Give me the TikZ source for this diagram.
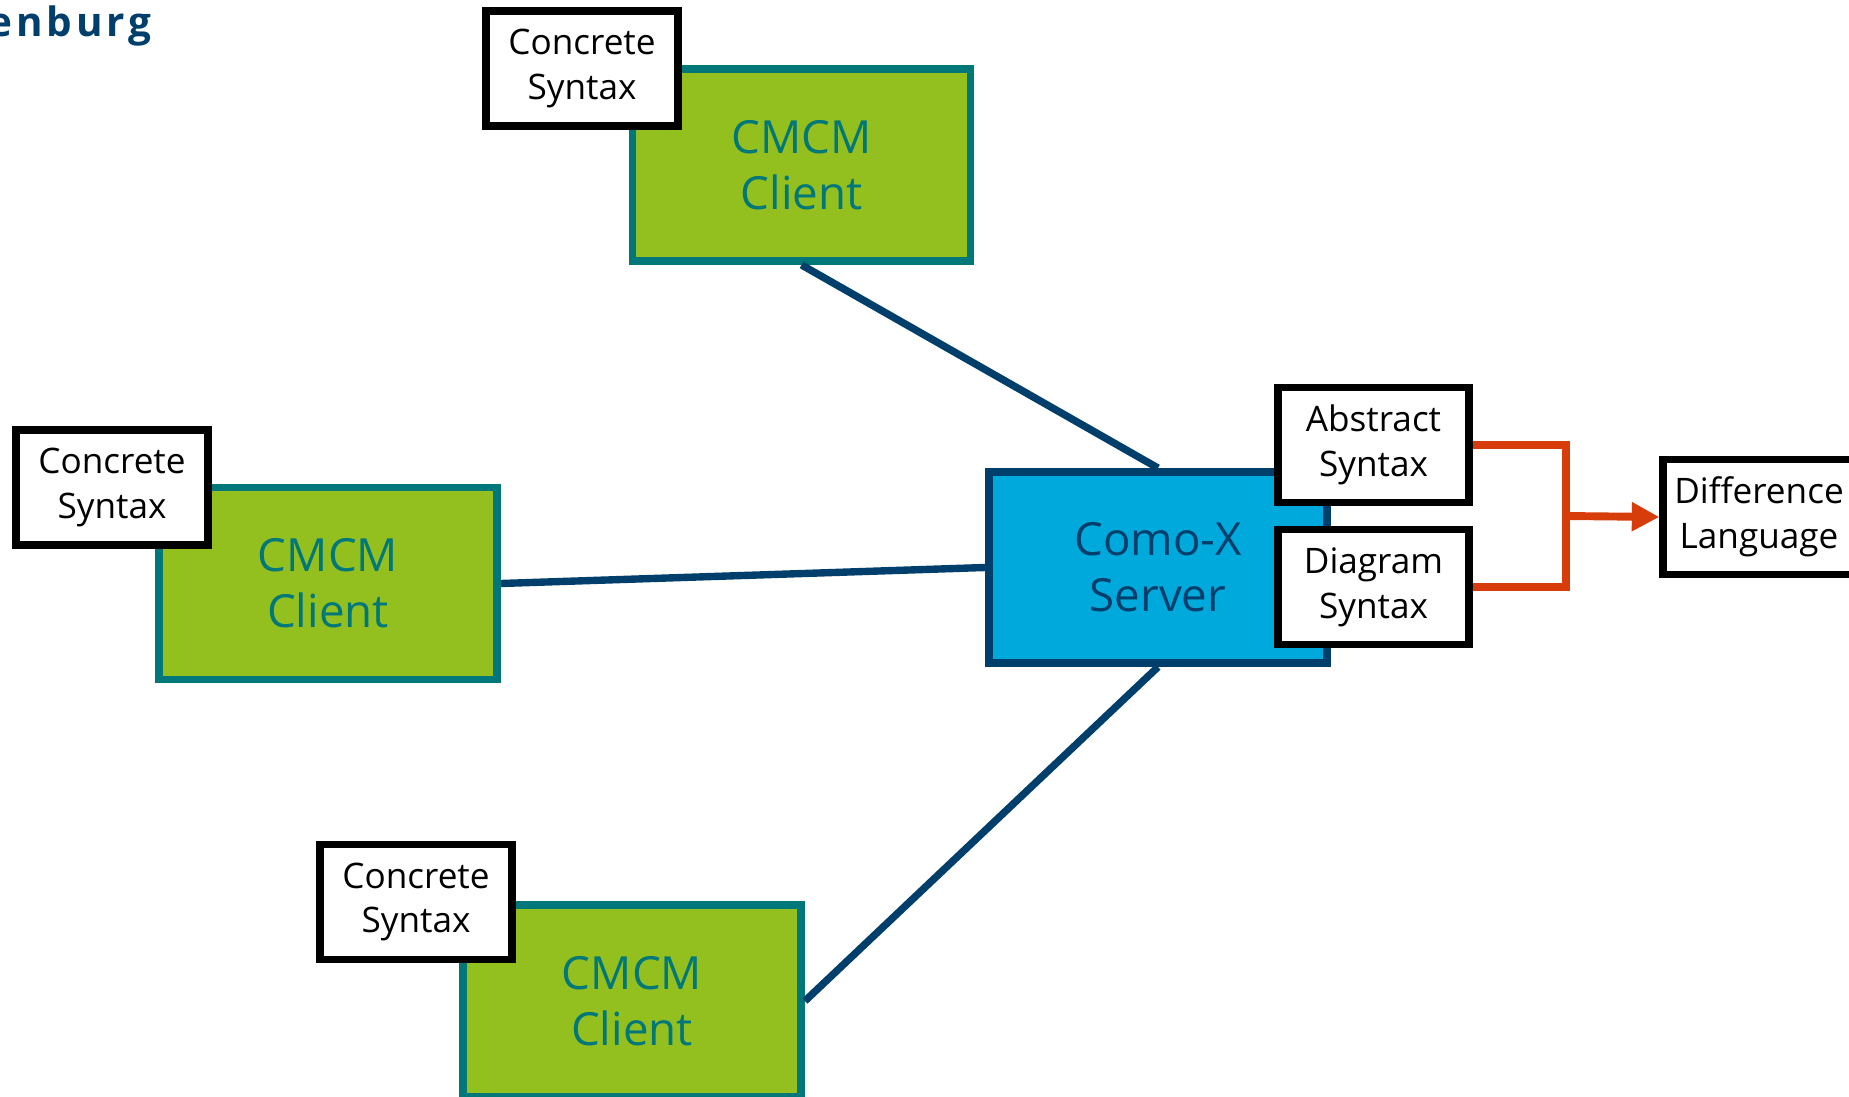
\documentclass[tikz,border=0pt]{standalone}
\usepackage{fontspec}
\setmainfont{Open Sans}
\newfontfamily\logofont[LetterSpace=10.0]{Open Sans}
\usetikzlibrary{arrows.meta}

\definecolor{cmgreen}{HTML}{93C01F}
\definecolor{cmteal}{HTML}{00787A}
\definecolor{cxblue}{HTML}{00A9DB}
\definecolor{navy}{HTML}{003F6C}
\definecolor{flow}{HTML}{D73D0B}

\tikzset{
  client/.style={draw=cmteal, fill=cmgreen, line width=4.5pt, text=cmteal,
    minimum width=6.76cm, minimum height=3.84cm, align=center,
    font=\fontsize{26}{32}\selectfont},
  server/.style={client, draw=navy, fill=cxblue, text=navy, minimum height=3.82cm},
  synbox/.style={draw=black, fill=white, line width=4.5pt, inner sep=0pt,
    minimum width=3.83cm, minimum height=2.3cm, align=center,
    font=\fontsize{20}{25.6}\selectfont},
  link/.style={navy, line width=4.2pt},
  flowline/.style={flow, line width=4.5pt},
}

\begin{document}
\begin{tikzpicture}[x=0.02cm, y=-0.02cm]
\useasboundingbox (0,0) rectangle (1849,1097);

\node[anchor=base east, text=navy, font=\logofont\bfseries\fontsize{23}{27}\selectfont] (logo) at (158,37) {enburg};

% clients with their concrete syntax
\node[client] (topcl) at (801.5,165) {CMCM\\Client};
\node[synbox] (topcs) at (582,68.5) {Concrete\\Syntax};
\node[client] (leftcl) at (328,583.5) {CMCM\\Client};
\node[synbox] (leftcs) at (112,487.5) {Concrete\\Syntax};
\node[client] (botcl) at (632,1001) {CMCM\\Client};
\node[synbox] (botcs) at (416,902) {Concrete\\Syntax};

% server
\node[server] (srv) at (1158,567.5) {Como-X\\Server};
\node[synbox] (abs) at (1373.5,445) {Abstract\\Syntax};
\node[synbox] (dia) at (1373.5,587) {Diagram\\Syntax};
\node[synbox] (diff) at (1759,517) {Difference\\Language};

\draw[link] (topcl.south) -- (srv.north);
\draw[link] (leftcl.east) -- (srv.west);
\draw[link] (botcl.east) -- (srv.south);

\coordinate (fork) at (1566,516);
\draw[flowline] (abs.east) -| (fork) |- (dia.east);
\draw[flowline, -{Triangle[length=0.55cm, width=0.55cm]}] (fork) -- (diff.west);
\end{tikzpicture}
\end{document}
